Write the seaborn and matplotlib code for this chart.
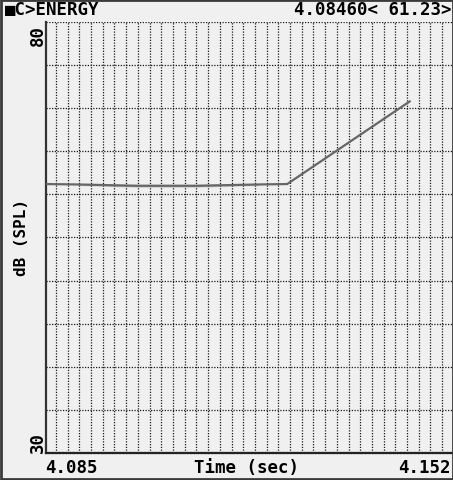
import matplotlib
matplotlib.use("Agg")
import matplotlib.pyplot as plt
import seaborn as sns
import pandas as pd
import numpy as np

# energy trace (time in s, level in dB SPL)
time_s = [4.0850, 4.0903, 4.0903, 4.0999, 4.0999, 4.1099, 4.1099, 4.1199, 4.1199, 4.1247, 4.1449]
level_db = [61.2, 61.2, 61.1, 61.1, 60.9, 60.9, 61.1, 61.1, 61.2, 61.2, 70.8]

x_min, x_max = 4.085, 4.152
y_min, y_max = 30, 80
x_labels = ["4.085", "4.152"]
y_labels = ["80", "30"]
title_left = "\u25a0C>ENERGY"
title_right = "4.08460< 61.23>"
x_title = "Time (sec)"
y_title = "dB (SPL)"

df = pd.DataFrame({"t": time_s, "db": level_db})

sns.set_theme(style="white")
plt.rcParams["font.family"] = ["DejaVu Sans Mono", "DejaVu Sans"]
bg = "#f0f0f0"

fig = plt.figure(figsize=(4.53, 4.81), dpi=100, facecolor=bg)
W, H = 453, 481
ax = fig.add_axes([46 / W, (H - 454) / H, (453 - 46) / W, (454 - 23) / H])
ax.set_facecolor(bg)

# dotted grid
px = (x_max - x_min) / 407
for gx in x_min + px * (10 + 11.7 * np.arange(34)):
    ax.axvline(gx, color="#1a1a1a", lw=0.9, ls=(0, (1, 1.2)), zorder=1)
for gy in np.arange(35, 81, 5):
    ax.axhline(gy, color="#1a1a1a", lw=0.9, ls=(0, (1, 1.2)), zorder=1)

sns.lineplot(data=df, x="t", y="db", ax=ax, color="#666666", lw=1.6, zorder=3)

ax.set_xlim(x_min, x_max)
ax.set_ylim(y_min, y_max)
ax.set_xticks([])
ax.set_yticks([])
ax.set_xlabel("")
ax.set_ylabel("")
for s in ["top", "right"]:
    ax.spines[s].set_visible(False)
ax.spines["left"].set_color("#333333")
ax.spines["left"].set_linewidth(1.6)
ax.spines["bottom"].set_color("#222222")
ax.spines["bottom"].set_linewidth(1.6)
ax.spines["bottom"].set_linestyle((0, (1, 0.6)))

fs = 12.5
kw = dict(fontsize=fs, fontweight="bold", color="black")
fig.text(5 / W, 1 - 10 / H, title_left, ha="left", va="center", **kw)
fig.text(452 / W, 1 - 10 / H, title_right, ha="right", va="center", **kw)
fig.text(45 / W, 1 - 468 / H, x_labels[0], ha="left", va="center", **kw)
fig.text(451 / W, 1 - 468 / H, x_labels[1], ha="right", va="center", **kw)
fig.text(247 / W, 1 - 468 / H, x_title, ha="center", va="center", **kw)
fig.text(38 / W, 1 - 25 / H, y_labels[0], ha="center", va="top", rotation=90, **kw)
fig.text(38 / W, 1 - 453 / H, y_labels[1], ha="center", va="bottom", rotation=90, **kw)
fig.text(22 / W, 1 - 238 / H, y_title, ha="center", va="center", rotation=90,
         fontsize=11.5, fontweight="bold", color="black")

# screen frame
fig.add_artist(plt.Rectangle((0.5 / W, 1.5 / H), (W - 1) / W, (H - 2.5) / H, transform=fig.transFigure,
                             fill=False, ec="#3a3a3a", lw=2))

fig.savefig("out.png", dpi=100, facecolor=bg)
